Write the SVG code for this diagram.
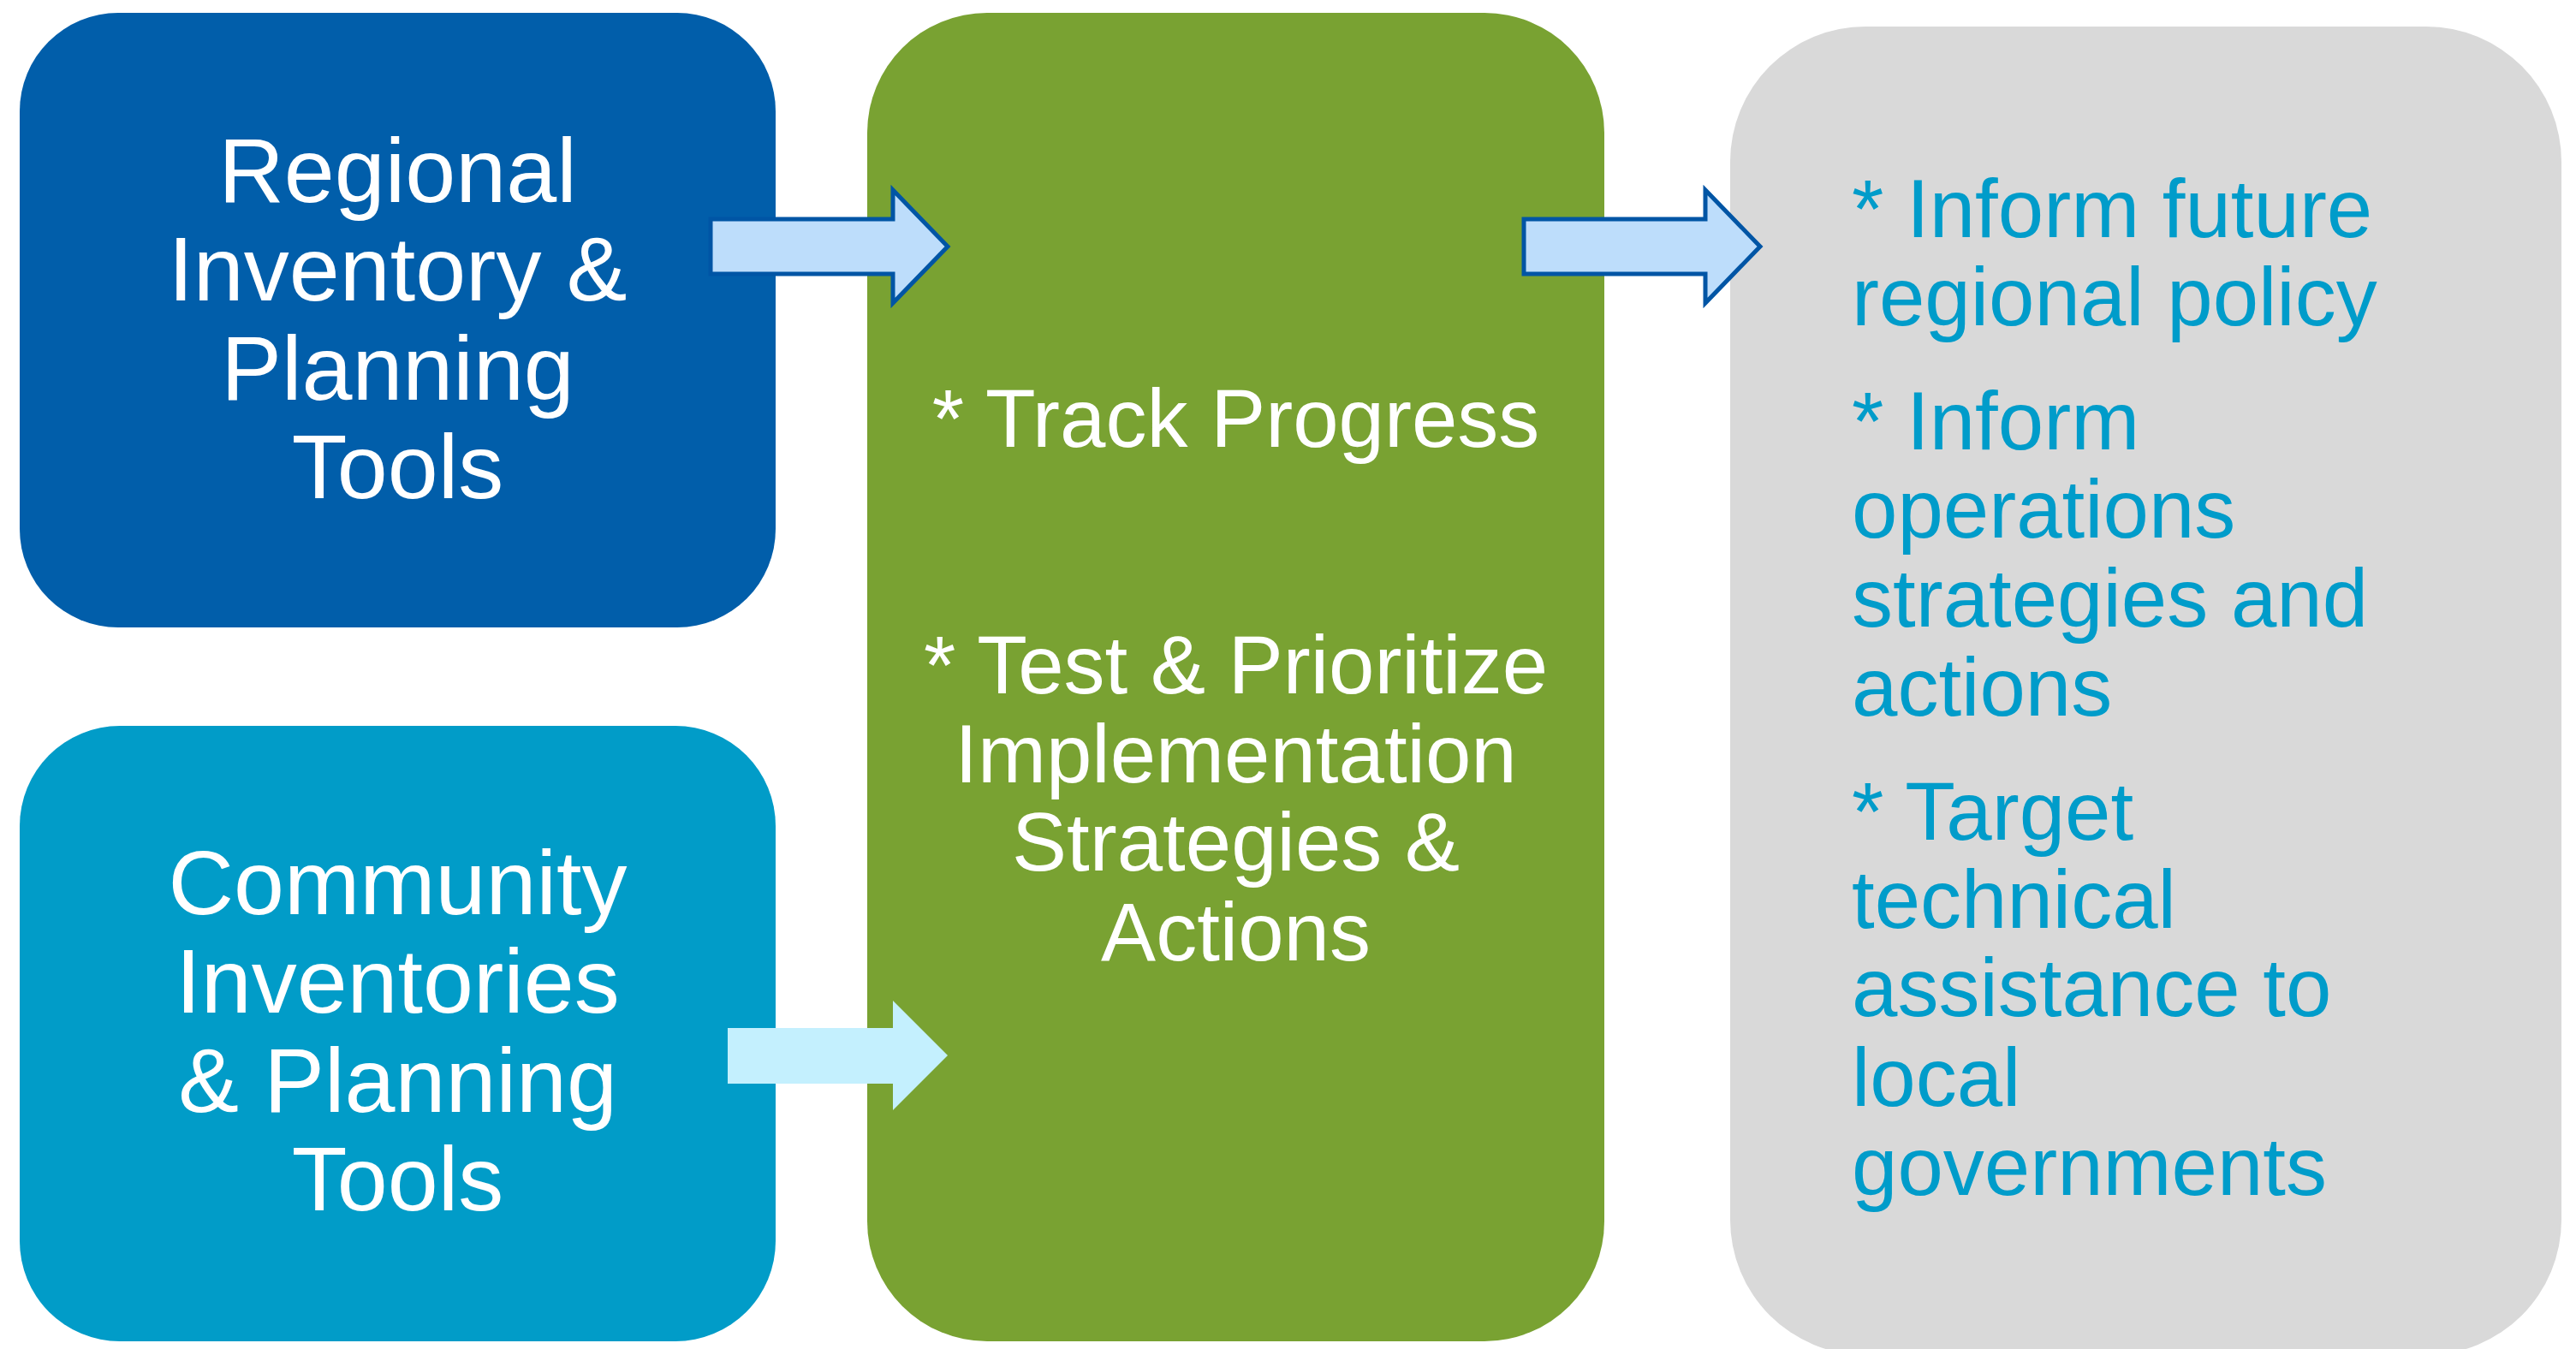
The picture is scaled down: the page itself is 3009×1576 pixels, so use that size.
<svg xmlns="http://www.w3.org/2000/svg" width="3009" height="1576" viewBox="0 0 3009 1576">
<style>
.t{font-family:"Liberation Sans",Arial,sans-serif}
.w{fill:#ffffff;text-anchor:middle}
.big{font-size:106px}
.mid{font-size:96px}
.c{fill:#009CCA;font-size:96px}
.ar1{fill:#BDDDFB;stroke:#0055A5;stroke-width:5;stroke-miterlimit:10}
.ar2{fill:#C4F0FE}
</style>
<rect width="3009" height="1576" fill="#ffffff"/>
<g id="node-regional">
<rect x="23" y="15" width="883" height="718" rx="115" ry="115" fill="#015EAA"/>
<text class="t w big" x="464.5" y="236">Regional</text>
<text class="t w big" x="464.5" y="351">Inventory &amp;</text>
<text class="t w big" x="464.5" y="467">Planning</text>
<text class="t w big" x="464.5" y="582">Tools</text>
</g>
<g id="node-community">
<rect x="23" y="848" width="883" height="719" rx="117" ry="117" fill="#019CC8"/>
<text class="t w big" x="464.5" y="1068">Community</text>
<text class="t w big" x="464.5" y="1183">Inventories</text>
<text class="t w big" x="464.5" y="1299">&amp; Planning</text>
<text class="t w big" x="464.5" y="1414">Tools</text>
</g>
<g id="node-track">
<rect x="1013" y="15" width="861" height="1552" rx="140" ry="140" fill="#79A232"/>
<text class="t w mid" x="1443.5" y="522">* Track Progress</text>
<text class="t w mid" x="1443.5" y="810">* Test &amp; Prioritize</text>
<text class="t w mid" x="1443.5" y="914">Implementation</text>
<text class="t w mid" x="1443.5" y="1017">Strategies &amp;</text>
<text class="t w mid" x="1443.5" y="1122">Actions</text>
</g>
<g id="node-inform">
<rect x="2021" y="31" width="971" height="1552" rx="158" ry="158" fill="#D9D9D9"/>
<text class="t c" x="2163" y="277">* Inform future</text>
<text class="t c" x="2163" y="380">regional policy</text>
<text class="t c" x="2163" y="525">* Inform</text>
<text class="t c" x="2163" y="628">operations</text>
<text class="t c" x="2163" y="732">strategies and</text>
<text class="t c" x="2163" y="836">actions</text>
<text class="t c" x="2163" y="981">* Target</text>
<text class="t c" x="2163" y="1084">technical</text>
<text class="t c" x="2163" y="1187">assistance to</text>
<text class="t c" x="2163" y="1292">local</text>
<text class="t c" x="2163" y="1396">governments</text>
</g>
<g id="connectors">
<path class="ar1" d="M830,256 H1043 V222 L1107,288 L1043,354 V320 H830 Z"/>
<path class="ar1" d="M1780,256 H1992 V222 L2056,288 L1992,354 V320 H1780 Z"/>
<path class="ar2" d="M850,1201 H1043 V1169 L1107,1233 L1043,1297 V1266 H850 Z"/>
</g>
</svg>
